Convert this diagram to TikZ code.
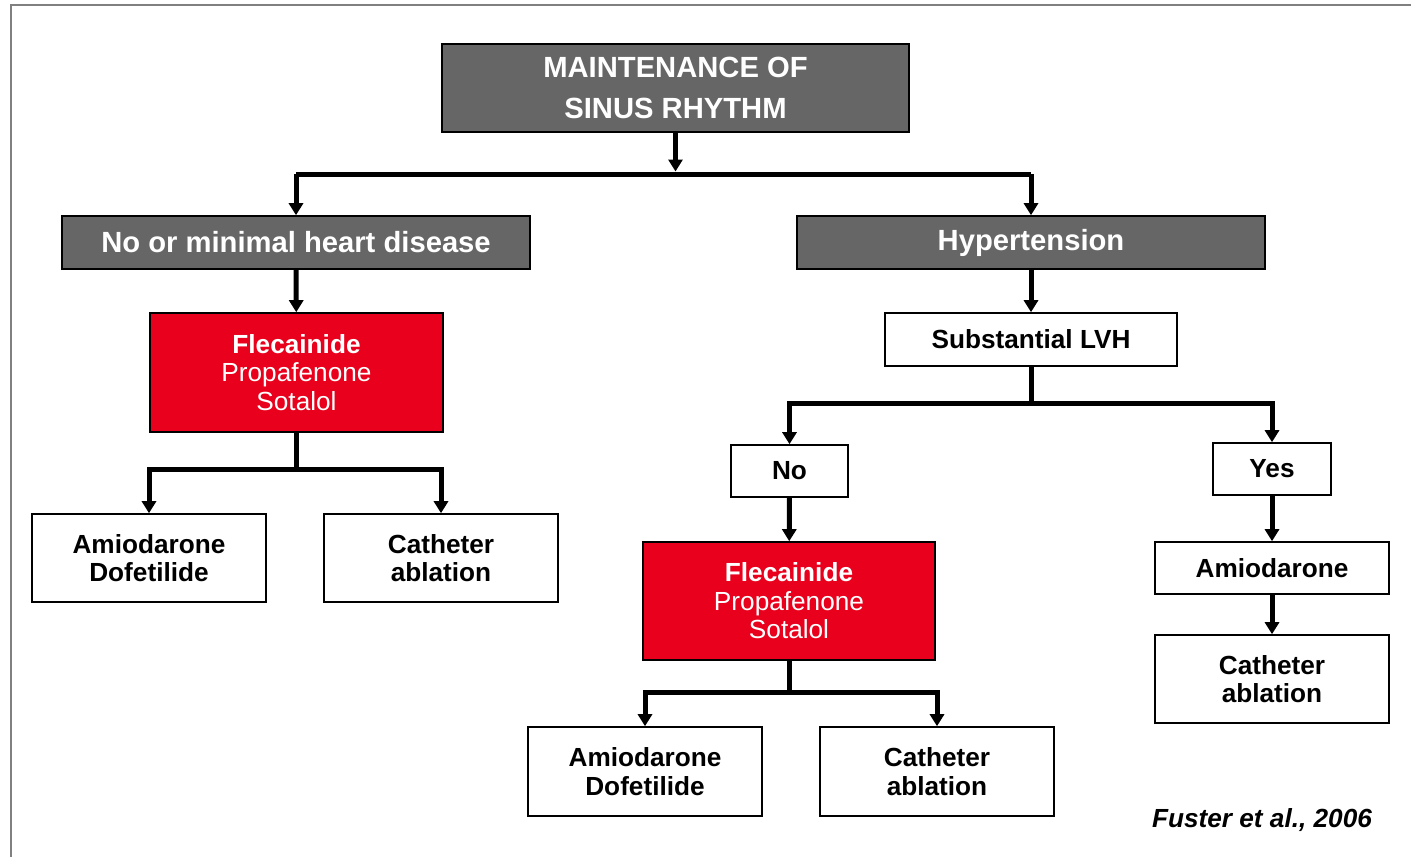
\documentclass[tikz,border=0pt]{standalone}
\usepackage{xcolor}
\usepackage{fontspec}
\setmainfont{Liberation Sans}
\usepackage{tikz}
\usetikzlibrary{arrows.meta,positioning}

\definecolor{boxgray}{RGB}{102,102,102}
\definecolor{boxred}{RGB}{232,0,28}
\definecolor{framegray}{RGB}{128,128,128}

\begin{document}
\begin{tikzpicture}[x=0.5pt, y=-0.5pt, >={Triangle[width=7pt,length=6pt]},
  every box/.style={draw=black, line width=0.8pt, align=center, inner sep=0pt,
    font=\fontsize{13.1}{14.3}\selectfont},
  gray box/.style={every box, fill=boxgray, text=white, font=\fontsize{14.6}{20.5}\selectfont\bfseries},
  red box/.style={every box, fill=boxred, text=white},
  white box/.style={every box, fill=white, font=\fontsize{13.1}{14.3}\selectfont\bfseries},
  link/.style={line width=2.5pt}]

\useasboundingbox (0,0) rectangle (1411,857);
\draw [framegray, line width=1pt] (11,857) -- (11,5) -- (1411,5);

% top level
\node [gray box, minimum width=233.5pt, minimum height=44pt] (title) at (675.5,88)
  {MAINTENANCE OF\\SINUS RHYTHM};
\node [gray box, minimum width=234pt, minimum height=26.5pt] (nomin) at (296,242.5)
  {No or minimal heart disease};
\node [gray box, minimum width=234pt, minimum height=26.5pt] (hyper) at (1031,242.5)
  {Hypertension};

% left branch
\node [red box, minimum width=146.5pt, minimum height=59.5pt] (red-1) at (296.5,372.5)
  {\textbf{Flecainide}\\Propafenone\\Sotalol};
\node [white box, minimum width=117pt, minimum height=44pt] (amio-1) at (149,558)
  {Amiodarone\\Dofetilide};
\node [white box, minimum width=117pt, minimum height=44pt] (cath-1) at (441,558)
  {Catheter\\ablation};

% right branch
\node [white box, minimum width=146pt, minimum height=26.5pt] (lvh) at (1031,339.5)
  {Substantial LVH};
\node [white box, minimum width=58.5pt, minimum height=26pt] (no) at (789.5,471) {No};
\node [white box, minimum width=59pt, minimum height=26pt] (yes) at (1272,469) {Yes};
\node [red box, minimum width=146pt, minimum height=59pt] (red-2) at (789,601)
  {\textbf{Flecainide}\\Propafenone\\Sotalol};
\node [white box, minimum width=117pt, minimum height=44.5pt] (amio-2) at (645,771.5)
  {Amiodarone\\Dofetilide};
\node [white box, minimum width=117pt, minimum height=44.5pt] (cath-2) at (937,771.5)
  {Catheter\\ablation};
\node [white box, minimum width=117pt, minimum height=26pt] (amio-3) at (1272,568)
  {Amiodarone};
\node [white box, minimum width=117pt, minimum height=44pt] (cath-3) at (1272,679)
  {Catheter\\ablation};

\node [anchor=base east, font=\fontsize{13.1}{14.3}\selectfont\bfseries\itshape] (ref)
  at (1379,827) {Fuster et al., 2006};

% splits
\coordinate (split-0) at (675.5,174);
\coordinate (split-1) at (296.5,469);
\coordinate (split-2) at (1031,403);
\coordinate (split-3) at (789,692);

\draw [link, ->, shorten >=1.25pt] (title) -- (split-0);
\draw [link] (split-0 -| nomin) -- (split-0 -| hyper);
\draw [link, ->] (split-0 -| nomin) -- (nomin);
\draw [link, ->] (split-0 -| hyper) -- (hyper);

\draw [link, ->] (nomin) -- (red-1);
\draw [link] (red-1) -- (split-1);
\foreach \t in {amio-1, cath-1}
  \draw [link, ->] (split-1) -| (\t);

\draw [link, ->] (hyper) -- (lvh);
\draw [link] (lvh) -- (split-2);
\foreach \t in {no, yes}
  \draw [link, ->] (split-2) -| (\t);

\draw [link, ->] (no) -- (red-2);
\draw [link] (red-2) -- (split-3);
\foreach \t in {amio-2, cath-2}
  \draw [link, ->] (split-3) -| (\t);

\draw [link, ->] (yes) -- (amio-3);
\draw [link, ->] (amio-3) -- (cath-3);

\end{tikzpicture}
\end{document}
